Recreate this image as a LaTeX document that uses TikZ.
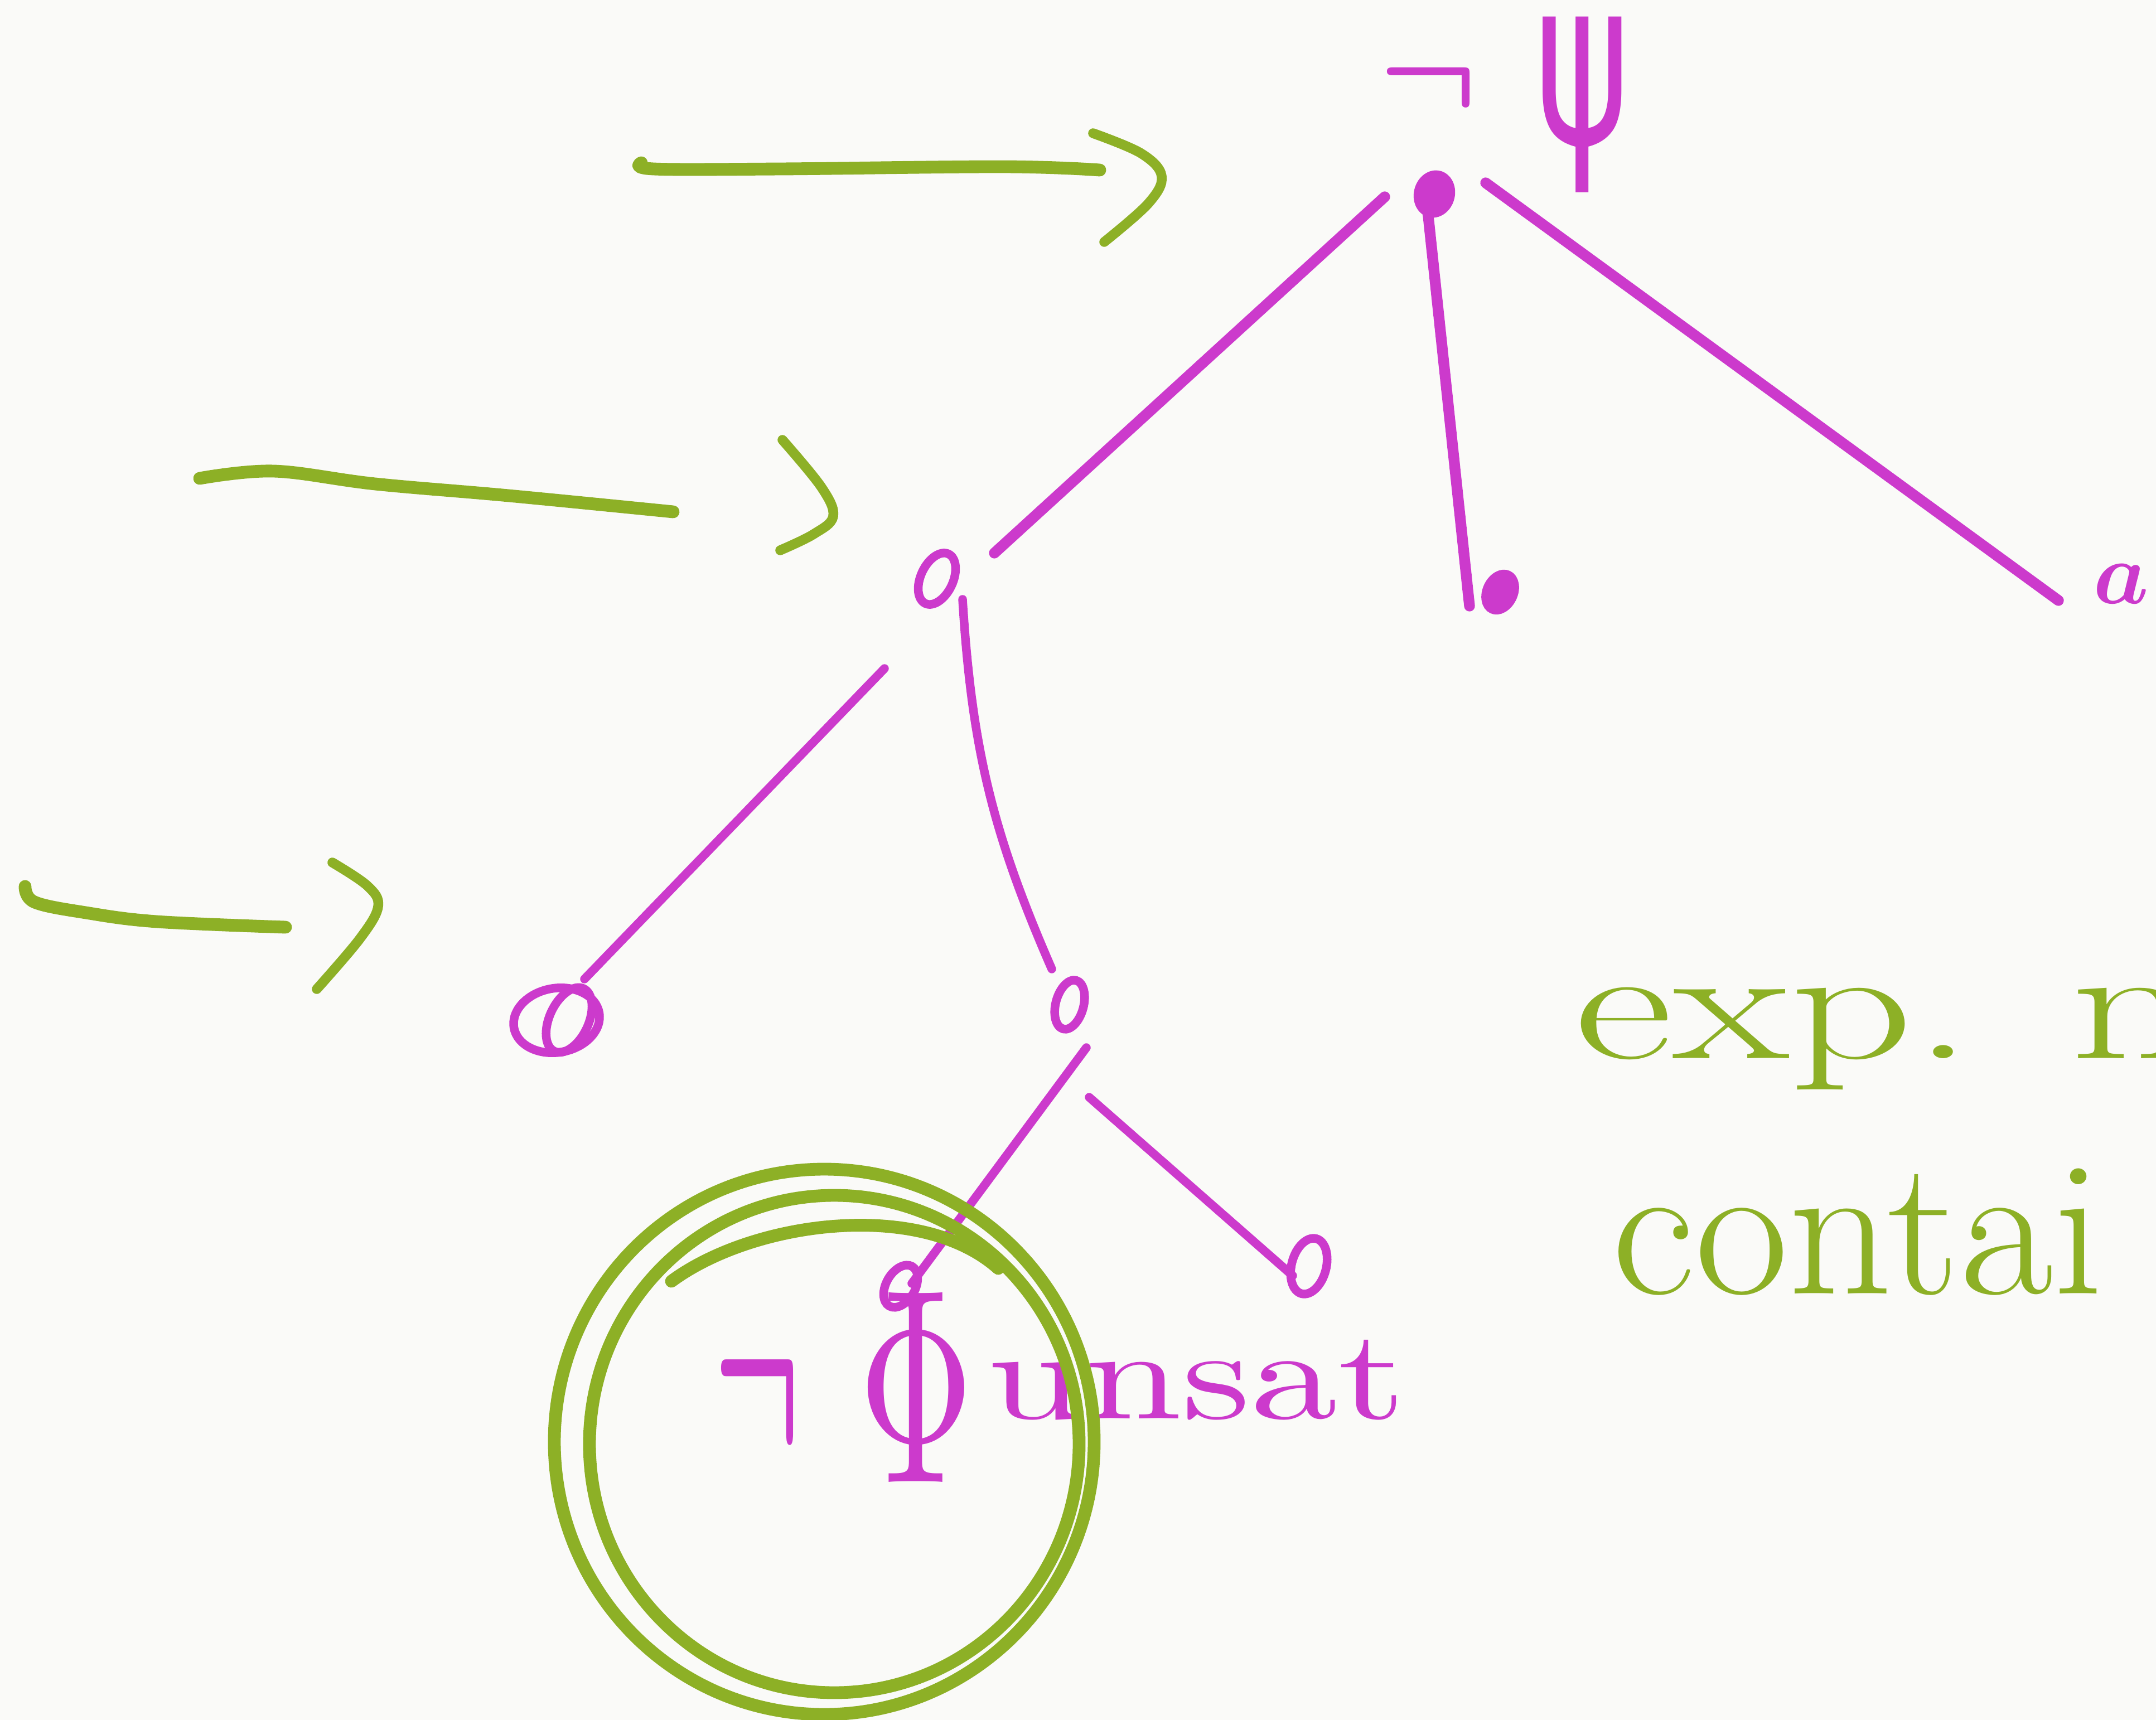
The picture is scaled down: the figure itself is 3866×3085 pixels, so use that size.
\documentclass[tikz,border=0pt]{standalone}
\usepackage{amsmath}
\usepackage{fontspec}
\usepackage{graphicx}
\newfontfamily\dejavu{DejaVu Sans}
\usetikzlibrary{shapes.geometric}
\definecolor{mag}{RGB}{204,58,204}
\definecolor{grn}{RGB}{141,176,38}
\definecolor{paper}{RGB}{250,250,248}
\tikzset{
  edge/.style={draw=mag, line width=5.5pt, line cap=round},
  thinedge/.style={draw=mag, line width=4.4pt, line cap=round},
  vtx/.style={ellipse, draw=mag, line width=4.4pt, inner sep=0pt},
  lbl/.style={text=mag, inner sep=0pt},
  gshaft/.style={draw=grn, line width=6.5pt, line cap=round, line join=round},
  ghead/.style={draw=grn, line width=5pt, line cap=round, line join=round},
  gcirc/.style={draw=grn, line width=6.5pt, line cap=round},
  gtext/.style={text=grn, inner sep=0pt},
}
\begin{document}
\begin{tikzpicture}[x=0.01cm, y=-0.01cm]
\useasboundingbox (0,0) rectangle (3866,3085);
\fill[paper] (0,0) rectangle (3866,3085);
\clip (0,0) rectangle (3866,3085);

% ---- labels ----
\node[lbl] (negpsi) at (2562,156) {\resizebox{1.78cm}{!}{$\boldsymbol{\neg}$}};
\node[lbl] (psi) at (2838,188) {\resizebox*{1.7cm}{3.15cm}{\dejavu ψ}};
\node[lbl] (a) at (3803,1047) {\resizebox{1.0cm}{!}{$\boldsymbol{a}$}};

% ---- vertices ----
\node[vtx, fill=mag, minimum width=0.58cm, minimum height=0.7cm, rotate=-15] (root) at (2572,348) {};
\node[vtx, minimum width=0.58cm, minimum height=0.98cm, rotate=-25] (lc) at (1680,1038) {};
\node[vtx, fill=mag, minimum width=0.48cm, minimum height=0.68cm, rotate=-25] (m) at (2690,1062) {};
\node[vtx, minimum width=1.55cm, minimum height=1.15cm, rotate=10] (ll) at (998,1830) {};
\draw[mag, line width=4.4pt, rotate around={-25:(ll.center)}] ([shift={(20,-10)}]ll.center) ellipse [x radius=35, y radius=62];
\node[vtx, minimum width=0.5cm, minimum height=0.9cm, rotate=-15] (lr) at (1918,1802) {};
\node[vtx, minimum width=0.52cm, minimum height=0.82cm, rotate=-30] (lrl) at (1615,2307) {};
\node[vtx, minimum width=0.62cm, minimum height=1.02cm, rotate=-15] (lrr) at (2347,2271) {};

% ---- edges ----
\draw[edge] ([shift={(-89,5)}]root.center) -- ([shift={(103,-46)}]lc.center);
\draw[edge] ([shift={(-12,30)}]root.center) -- ([shift={(-55,25)}]m.center);
\draw[edge] ([shift={(92,-20)}]root.center) -- ([shift={(-112,30)}]a.center);
\draw[thinedge] ([shift={(-94,161)}]lc.center) -- ([shift={(50,-74)}]ll.center);
\draw[thinedge] ([shift={(46,37)}]lc.center) to[bend right=10] ([shift={(-32,-64)}]lr.center);
\draw[thinedge] ([shift={(30,77)}]lr.center) -- ([shift={(20,-5)}]lrl.center);
\draw[thinedge] ([shift={(35,166)}]lr.center) -- ([shift={(-29,17)}]lrr.center);

% ---- result label ----
\node[lbl] (neg) at (1358,2512) {\resizebox{1.55cm}{2.2cm}{$\boldsymbol{\neg}$}};
\node[lbl] (phi) at (1643,2488) {\resizebox{2.05cm}{3.4cm}{$\Phi$}};
\node[lbl, anchor=south west] (unsat) at (1770,2548) {\resizebox{7.5cm}{1.41cm}{unsat}};

% ---- green annotations ----
\draw[gshaft] plot[smooth, tension=0.6] coordinates {(1150,292) (1172,303) (1400,303) (1800,299) (1972,305)};
\draw[ghead] plot[smooth, tension=0.6] coordinates {(1960,239) (2046,275) (2083,316) (2059,365) (1980,434)};
\draw[gshaft] plot[smooth, tension=0.6] coordinates {(358,858) (491,845) (673,868) (912,889) (1207,918)};
\draw[ghead] plot[smooth, tension=0.6] coordinates {(1403,789) (1473,874) (1494,926) (1459,958) (1399,987)};
\draw[gshaft] plot[smooth, tension=0.6] coordinates {(45,1590) (62,1618) (154,1637) (281,1653) (512,1663)};
\draw[ghead] plot[smooth, tension=0.6] coordinates {(596,1547) (659,1589) (678,1626) (645,1684) (568,1774)};

\draw[gcirc] (1478,2586) ellipse [x radius=484, y radius=489];
\draw[gcirc] (1496,2590) ellipse [x radius=439, y radius=446];
\draw[gcirc] (1204,2298) .. controls (1350,2190) and (1650,2150) .. (1790,2275);

\node[gtext, anchor=base west] (exp) at (2823,1898) {\scalebox{1.5}[1]{\fontsize{82}{90}\selectfont exp. m}};
\node[gtext, anchor=base west] (cont) at (2890,2320) {\scalebox{1.05}[1]{\fontsize{99}{110}\selectfont contai}};
\end{tikzpicture}
\end{document}
